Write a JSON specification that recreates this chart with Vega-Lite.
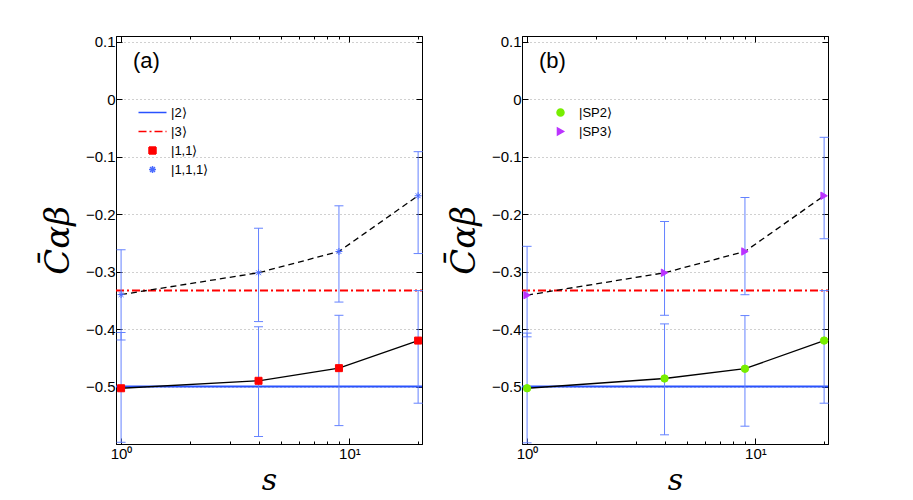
{
  "$schema": "https://vega.github.io/schema/vega-lite/v6.json",
  "background": "white",
  "padding": {"left": 40, "top": 34, "right": 5, "bottom": 5},
  "spacing": 19,
  "datasets": {
    "ref": [
      {"series": "|2⟩", "s": 0.95, "y": -0.5},
      {"series": "|2⟩", "s": 20.8, "y": -0.5},
      {"series": "|3⟩", "s": 0.95, "y": -0.333},
      {"series": "|3⟩", "s": 20.8, "y": -0.333}
    ],
    "pa": [
      {"series": "|1,1⟩", "s": 1, "y": -0.503, "lo": -0.597, "hi": -0.406},
      {"series": "|1,1⟩", "s": 4, "y": -0.49, "lo": -0.587, "hi": -0.396},
      {"series": "|1,1⟩", "s": 9, "y": -0.468, "lo": -0.568, "hi": -0.376},
      {"series": "|1,1⟩", "s": 20, "y": -0.42, "lo": -0.529, "hi": -0.333},
      {"series": "|1,1,1⟩", "s": 1, "y": -0.34, "lo": -0.419, "hi": -0.262},
      {"series": "|1,1,1⟩", "s": 4, "y": -0.302, "lo": -0.387, "hi": -0.2245},
      {"series": "|1,1,1⟩", "s": 9, "y": -0.265, "lo": -0.353, "hi": -0.1855},
      {"series": "|1,1,1⟩", "s": 20, "y": -0.168, "lo": -0.2686, "hi": -0.0913}
    ],
    "pb": [
      {"series": "|SP2⟩", "s": 1, "y": -0.503, "lo": -0.598, "hi": -0.407},
      {"series": "|SP2⟩", "s": 4, "y": -0.486, "lo": -0.584, "hi": -0.391},
      {"series": "|SP2⟩", "s": 9, "y": -0.469, "lo": -0.569, "hi": -0.3765},
      {"series": "|SP2⟩", "s": 20, "y": -0.42, "lo": -0.529, "hi": -0.333},
      {"series": "|SP3⟩", "s": 1, "y": -0.341, "lo": -0.4135, "hi": -0.256},
      {"series": "|SP3⟩", "s": 4, "y": -0.302, "lo": -0.376, "hi": -0.2128},
      {"series": "|SP3⟩", "s": 9, "y": -0.265, "lo": -0.3402, "hi": -0.171},
      {"series": "|SP3⟩", "s": 20, "y": -0.168, "lo": -0.2428, "hi": -0.0663}
    ]
  },
  "config": {
    "view": {"stroke": "black", "strokeWidth": 1},
    "font": "Liberation Sans",
    "axis": {"domainColor": "black", "tickColor": "black", "labelColor": "black", "labelFont": "Liberation Sans", "labelFontSize": 15, "grid": false},
    "legend": {"symbolFillColor": "transparent", "orient": "none", "labelFont": "Liberation Sans", "labelFontSize": 13, "labelOffset": 12, "symbolSize": 49, "symbolStrokeWidth": 1.5, "rowPadding": 5},
    "title": {"font": "Liberation Sans", "fontSize": 22, "fontWeight": "normal", "anchor": "start", "frame": "group", "baseline": "top", "offset": -14, "dx": 17, "dy": 24}
  },
  "resolve": {
    "scale": {"stroke": "independent", "fill": "independent", "shape": "independent", "strokeDash": "independent"},
    "legend": {"stroke": "independent", "fill": "independent", "shape": "independent", "strokeDash": "independent"}
  },
  "hconcat": [
    {
      "width": 306,
      "height": 408,
      "title": {"text": "(a)"},
      "resolve": {"axis": {"x": "independent", "y": "independent"}},
      "layer": [
        {
          "data": {"name": "ref"},
          "mark": {"type": "line", "strokeWidth": 2},
          "encoding": {
            "x": {"field": "s", "type": "quantitative", "scale": {"type": "log", "domain": [0.95, 20.8], "nice": false},
              "axis": {"orient": "bottom", "values": [1, 2, 3, 4, 5, 6, 7, 8, 9, 10, 20], "labelExpr": "datum.value == 1 ? '10⁰' : (datum.value == 10 ? '10¹' : '')", "tickSize": {"condition": {"test": "datum.value == 1 || datum.value == 10", "value": -6}, "value": -3}, "labelPadding": 8, "labelOverlap": false, "labelFlush": false, "title": "s", "titleFont": "DejaVu Serif", "titleFontStyle": "italic", "titleFontWeight": "normal", "titleFontSize": 30, "titlePadding": 1}},
            "y": {"field": "y", "type": "quantitative", "scale": {"domain": [-0.6, 0.11], "nice": false, "zero": false},
              "axis": {"orient": "left", "values": [-0.5, -0.4, -0.3, -0.2, -0.1, 0, 0.1], "labelExpr": "datum.value == 0 ? '0' : format(datum.value, '.1f')", "tickSize": -6, "grid": true, "gridDash": [1, 3], "gridColor": "#a0a0a0", "labelPadding": 7, "title": "C̄αβ", "titleFont": "DejaVu Serif", "titleFontStyle": "italic", "titleFontWeight": "normal", "titleFontSize": 34, "titlePadding": 10}},
            "stroke": {"field": "series", "type": "nominal", "title": null, "scale": {"domain": ["|2⟩", "|3⟩", "|1,1⟩", "|1,1,1⟩"], "range": ["#2952ff", "#ff0000", "#ff0000", "#4a6bff"]}},
            "strokeDash": {"field": "series", "type": "nominal", "title": null, "scale": {"domain": ["|2⟩", "|3⟩", "|1,1⟩", "|1,1,1⟩"], "range": [[1, 0], [8, 3, 2, 3], [1, 0], [1, 0]]}}
          }
        },
        {
          "data": {"name": "pa"},
          "transform": [{"filter": "datum.series == '|1,1⟩'"}],
          "mark": {"type": "line", "color": "black", "strokeWidth": 1.3},
          "encoding": {
            "x": {"field": "s", "type": "quantitative", "axis": null},
            "y": {"field": "y", "type": "quantitative", "axis": null}
          }
        },
        {
          "data": {"name": "pa"},
          "transform": [{"filter": "datum.series == '|1,1,1⟩'"}],
          "mark": {"type": "line", "color": "black", "strokeWidth": 1.3, "strokeDash": [6, 4]},
          "encoding": {
            "x": {"field": "s", "type": "quantitative", "axis": null},
            "y": {"field": "y", "type": "quantitative", "axis": null}
          }
        },
        {
          "data": {"name": "pa"},
          "mark": {"type": "rule", "color": "#6482ff", "strokeWidth": 1},
          "encoding": {
            "x": {"field": "s", "type": "quantitative",
              "axis": {"orient": "top", "values": [1, 2, 3, 4, 5, 6, 7, 8, 9, 10, 20], "labels": false, "tickSize": {"condition": {"test": "datum.value == 1 || datum.value == 10", "value": -6}, "value": -3}, "title": null}},
            "y": {"field": "lo", "type": "quantitative",
              "axis": {"orient": "right", "values": [-0.5, -0.4, -0.3, -0.2, -0.1, 0, 0.1], "labels": false, "tickSize": -6, "title": null}},
            "y2": {"field": "hi"}
          }
        },
        {
          "data": {"name": "pa"},
          "mark": {"type": "tick", "orient": "horizontal", "color": "#6482ff", "size": 9, "thickness": 1, "opacity": 1},
          "encoding": {
            "x": {"field": "s", "type": "quantitative", "axis": null},
            "y": {"field": "lo", "type": "quantitative", "axis": null}
          }
        },
        {
          "data": {"name": "pa"},
          "mark": {"type": "tick", "orient": "horizontal", "color": "#6482ff", "size": 9, "thickness": 1, "opacity": 1},
          "encoding": {
            "x": {"field": "s", "type": "quantitative", "axis": null},
            "y": {"field": "hi", "type": "quantitative", "axis": null}
          }
        },
        {
          "data": {"name": "pa"},
          "mark": {"type": "point", "filled": true, "size": 49, "strokeWidth": 1, "opacity": 1},
          "encoding": {
            "x": {"field": "s", "type": "quantitative", "axis": null},
            "y": {"field": "y", "type": "quantitative", "axis": null},
            "fill": {"field": "series", "type": "nominal", "title": null, "scale": {"domain": ["|2⟩", "|3⟩", "|1,1⟩", "|1,1,1⟩"], "range": ["transparent", "transparent", "#ff0000", "#4a6bff"]}, "legend": {"legendX": 30, "legendY": 70}},
            "stroke": {"field": "series", "type": "nominal", "title": null, "scale": {"domain": ["|2⟩", "|3⟩", "|1,1⟩", "|1,1,1⟩"], "range": ["#2952ff", "#ff0000", "#ff0000", "#4a6bff"]}},
            "shape": {"field": "series", "type": "nominal", "title": null, "scale": {"domain": ["|2⟩", "|3⟩", "|1,1⟩", "|1,1,1⟩"], "range": ["M-4,0L4,0", "M-4,0L4,0", "square", "M-1,0L1,0M0,-1L0,1M-0.7,-0.7L0.7,0.7M-0.7,0.7L0.7,-0.7"]}}
          }
        }
      ]
    },
    {
      "width": 306,
      "height": 408,
      "title": {"text": "(b)"},
      "resolve": {"axis": {"x": "independent", "y": "independent"}},
      "layer": [
        {
          "data": {"name": "ref"},
          "transform": [{"filter": "datum.series == '|2⟩'"}],
          "mark": {"type": "line", "strokeWidth": 2, "color": "#2952ff"},
          "encoding": {
            "x": {"field": "s", "type": "quantitative", "scale": {"type": "log", "domain": [0.95, 20.8], "nice": false},
              "axis": {"orient": "bottom", "values": [1, 2, 3, 4, 5, 6, 7, 8, 9, 10, 20], "labelExpr": "datum.value == 1 ? '10⁰' : (datum.value == 10 ? '10¹' : '')", "tickSize": {"condition": {"test": "datum.value == 1 || datum.value == 10", "value": -6}, "value": -3}, "labelPadding": 8, "labelOverlap": false, "labelFlush": false, "title": "s", "titleFont": "DejaVu Serif", "titleFontStyle": "italic", "titleFontWeight": "normal", "titleFontSize": 30, "titlePadding": 1}},
            "y": {"field": "y", "type": "quantitative", "scale": {"domain": [-0.6, 0.11], "nice": false, "zero": false},
              "axis": {"orient": "left", "values": [-0.5, -0.4, -0.3, -0.2, -0.1, 0, 0.1], "labelExpr": "datum.value == 0 ? '0' : format(datum.value, '.1f')", "tickSize": -6, "grid": true, "gridDash": [1, 3], "gridColor": "#a0a0a0", "labelPadding": 7, "title": "C̄αβ", "titleFont": "DejaVu Serif", "titleFontStyle": "italic", "titleFontWeight": "normal", "titleFontSize": 34, "titlePadding": 10}}
          }
        },
        {
          "data": {"name": "ref"},
          "transform": [{"filter": "datum.series == '|3⟩'"}],
          "mark": {"type": "line", "strokeWidth": 2, "color": "#ff0000", "strokeDash": [8, 3, 2, 3]},
          "encoding": {
            "x": {"field": "s", "type": "quantitative", "axis": null},
            "y": {"field": "y", "type": "quantitative", "axis": null}
          }
        },
        {
          "data": {"name": "pb"},
          "transform": [{"filter": "datum.series == '|SP2⟩'"}],
          "mark": {"type": "line", "color": "black", "strokeWidth": 1.3},
          "encoding": {
            "x": {"field": "s", "type": "quantitative", "axis": null},
            "y": {"field": "y", "type": "quantitative", "axis": null}
          }
        },
        {
          "data": {"name": "pb"},
          "transform": [{"filter": "datum.series == '|SP3⟩'"}],
          "mark": {"type": "line", "color": "black", "strokeWidth": 1.3, "strokeDash": [6, 4]},
          "encoding": {
            "x": {"field": "s", "type": "quantitative", "axis": null},
            "y": {"field": "y", "type": "quantitative", "axis": null}
          }
        },
        {
          "data": {"name": "pb"},
          "mark": {"type": "rule", "color": "#6482ff", "strokeWidth": 1},
          "encoding": {
            "x": {"field": "s", "type": "quantitative",
              "axis": {"orient": "top", "values": [1, 2, 3, 4, 5, 6, 7, 8, 9, 10, 20], "labels": false, "tickSize": {"condition": {"test": "datum.value == 1 || datum.value == 10", "value": -6}, "value": -3}, "title": null}},
            "y": {"field": "lo", "type": "quantitative",
              "axis": {"orient": "right", "values": [-0.5, -0.4, -0.3, -0.2, -0.1, 0, 0.1], "labels": false, "tickSize": -6, "title": null}},
            "y2": {"field": "hi"}
          }
        },
        {
          "data": {"name": "pb"},
          "mark": {"type": "tick", "orient": "horizontal", "color": "#6482ff", "size": 9, "thickness": 1, "opacity": 1},
          "encoding": {
            "x": {"field": "s", "type": "quantitative", "axis": null},
            "y": {"field": "lo", "type": "quantitative", "axis": null}
          }
        },
        {
          "data": {"name": "pb"},
          "mark": {"type": "tick", "orient": "horizontal", "color": "#6482ff", "size": 9, "thickness": 1, "opacity": 1},
          "encoding": {
            "x": {"field": "s", "type": "quantitative", "axis": null},
            "y": {"field": "hi", "type": "quantitative", "axis": null}
          }
        },
        {
          "data": {"name": "pb"},
          "mark": {"type": "point", "filled": true, "size": 55, "strokeWidth": 1, "opacity": 1},
          "encoding": {
            "x": {"field": "s", "type": "quantitative", "axis": null},
            "y": {"field": "y", "type": "quantitative", "axis": null},
            "fill": {"field": "series", "type": "nominal", "title": null, "scale": {"domain": ["|SP2⟩", "|SP3⟩"], "range": ["#77ee00", "#bb33ff"]}, "legend": {"legendX": 32, "legendY": 70}},
            "stroke": {"field": "series", "type": "nominal", "title": null, "scale": {"domain": ["|SP2⟩", "|SP3⟩"], "range": ["#77ee00", "#bb33ff"]}},
            "shape": {"field": "series", "type": "nominal", "title": null, "scale": {"domain": ["|SP2⟩", "|SP3⟩"], "range": ["circle", "triangle-right"]}}
          }
        }
      ]
    }
  ]
}
